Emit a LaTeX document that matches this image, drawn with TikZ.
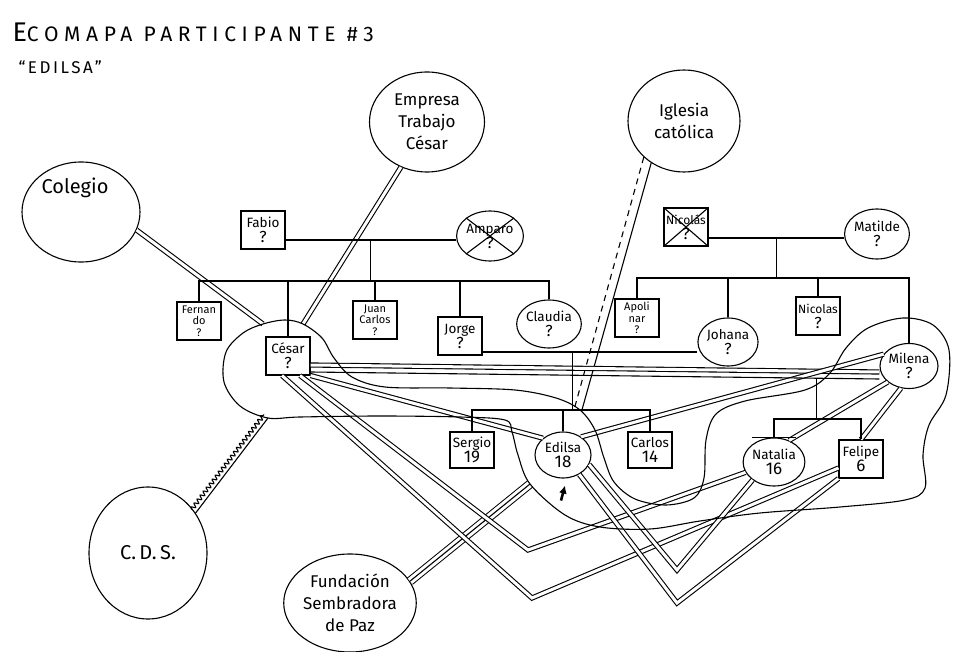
\documentclass[tikz,border=0pt]{standalone}
\usepackage{fontspec}
\setmainfont{Fira Sans}
\usetikzlibrary{shapes.geometric, arrows.meta, calc, decorations.pathmorphing}

\tikzset{
  sistema/.style={ellipse, draw, align=center, inner sep=0pt, font=\fontsize{17}{22}\selectfont},
  hombre/.style={rectangle, draw, minimum width=44pt, minimum height=38pt, inner sep=1pt, align=center, font=\fontsize{13.5}{15}\selectfont},
  mujer/.style={ellipse, draw, minimum width=57pt, minimum height=48pt, inner sep=0pt, align=center, font=\fontsize{13.5}{15}\selectfont},
  fuerte/.style={double, double distance=3pt},
  muyfuerte/.style={preaction={draw, line width=9pt}, preaction={draw, white, line width=7pt}},
  tenue/.style={dash pattern=on 6pt off 5pt},
  estres/.style={decorate, decoration={snake, segment length=5pt, amplitude=2pt}},
}
\newcommand{\preg}{{\fontsize{16}{16}\selectfont ?}}
\newcommand{\edad}[1]{{\fontsize{17}{17}\selectfont #1}}

\begin{document}
\begin{tikzpicture}[x=1pt, y=-1pt, line width=1.1pt]
  \useasboundingbox (0,0) rectangle (953,652);

  % Titulo
  \node[anchor=base west, inner sep=0pt, font=\fontsize{21}{21}\selectfont\addfontfeatures{LetterSpace=27}] (titulo) at (12,42)
    {{\fontsize{27}{27}\selectfont E}COMAPA PARTICIPANTE \#3};
  \node[anchor=base west, inner sep=0pt, font=\fontsize{17}{17}\selectfont\addfontfeatures{LetterSpace=15}] (subtitulo) at (18,74) {“EDILSA”};

  % Puntos del limite del hogar
  \coordinate (hogar-col) at (263,324);
  \coordinate (hogar-emp) at (303,324);
  \coordinate (hogar-cds) at (268,418);
  \coordinate (hogar-fun) at (530,484);
  % Quiebres de las lineas
  \coordinate (v1) at (528,550);
  \coordinate (v2) at (532,598);
  \coordinate (v3) at (677,570);
  \coordinate (v4) at (677,603);

  % Sistemas externos
  \node[sistema, minimum width=118pt, minimum height=100pt,
        label={[font=\fontsize{20}{20}\selectfont, xshift=-6pt, yshift=24pt]center:Colegio}] (colegio) at (81,212) {};
  \node[sistema, minimum width=115pt, minimum height=100pt] (empresa) at (427,122) {Empresa\\Trabajo\\César};
  \node[sistema, minimum width=112pt, minimum height=102pt] (iglesia) at (684,121) {Iglesia\\católica};
  \node[sistema, minimum width=118pt, minimum height=132pt, font=\fontsize{20}{20}\selectfont] (cds) at (148,553) {C.\,D.\,S.};
  \node[sistema, minimum width=114pt, minimum height=98pt] (fundacion) at (350,603) {Fundación\\Sembradora\\de Paz};

  % Familia de Cesar
  \node[hombre] (fabio) at (263,230) {Fabio\\\preg};
  \node[mujer, minimum width=58pt, minimum height=50pt] (amparo) at (490,236) {Amparo\\\preg};
  \node[hombre, font=\fontsize{11}{11.5}\selectfont] (fernando) at (199,321) {Fernan\\do\\?};
  \node[hombre] (cesar) at (288,356) {César\\\preg};
  \node[hombre, font=\fontsize{11}{11.5}\selectfont] (juancarlos) at (375,320) {Juan\\Carlos\\?};
  \node[hombre] (jorge) at (460,336) {Jorge\\\preg};
  \node[mujer, minimum width=58pt] (claudia) at (549,324) {Claudia\\\preg};

  % Familia de Milena
  \node[hombre, font=\fontsize{12}{15}\selectfont] (nicolas) at (686,227) {Nicolás\\\preg};
  \node[mujer, minimum width=60pt, minimum height=50pt] (matilde) at (877,234) {Matilde\\\preg};
  \node[hombre, font=\fontsize{11}{11.5}\selectfont] (apolinar) at (637,318) {Apoli\\nar\\?};
  \node[mujer] (johana) at (728,342) {Johana\\\preg};
  \node[hombre, font=\fontsize{12}{15}\selectfont] (nicolas2) at (818,316) {Nicolas\\\preg};
  \node[mujer, minimum width=58pt, minimum height=45pt] (milena) at (909,366) {Milena\\\preg};

  % Hijos
  \node[hombre, minimum height=36pt] (sergio) at (472,450) {Sergio\\\edad{19}};
  \node[mujer, minimum width=56pt, minimum height=46pt] (edilsa) at (563,455) {Edilsa\\\edad{18}};
  \node[hombre, minimum height=36pt] (carlos) at (650,450) {Carlos\\\edad{14}};
  \node[mujer, minimum width=58pt, minimum height=48pt] (natalia) at (774,462) {Natalia\\\edad{16}};
  \node[hombre] (felipe) at (861,459) {Felipe\\\edad{6}};

  % Relaciones con el entorno
  \draw[fuerte] (colegio.-18) -- (hogar-col);
  \draw[fuerte] (empresa.240) -- (hogar-emp);
  \draw[shorten >=24pt] (iglesia.232) -- (edilsa.60);
  \draw[tenue, shorten >=24pt] (iglesia.222) -- (edilsa.78);
  \draw (cds.40) -- (hogar-cds);
  \draw[estres, transform canvas={xshift=-4pt, yshift=3.5pt}] (cds.40) -- (hogar-cds);
  \draw[muyfuerte] (fundacion.20) -- (hogar-fun);

  % Relaciones dentro del hogar
  \draw[fuerte] ([yshift=-9pt]cesar.east) -- ([yshift=-6pt]milena.west);
  \draw[fuerte] (cesar.south east) -- (edilsa.140);
  \draw[fuerte] ([xshift=12pt]cesar.south) -- (v1) -- (natalia.200);
  \draw[fuerte] ([xshift=-6pt]cesar.south) -- (v2) -- ([yshift=-9pt]felipe.west);
  \draw[fuerte] (edilsa.340) -- (v3) -- (natalia.220);
  \draw[fuerte] (edilsa.310) -- (v4) -- (felipe.south west);
  \draw[fuerte] (edilsa.45) -- (milena.155);
  \draw[fuerte] (milena.217) -- (natalia.55);
  \draw[fuerte] (milena.250) -- (felipe.north);

  % Limite del hogar
  \draw plot[smooth cycle, tension=0.55] coordinates {
    (hogar-col) (285,320) (hogar-emp) (322,338) (334,358) (352,377) (385,387)
    (450,388) (515,390) (556,398) (580,410) (595,430) (604,458) (614,482)
    (635,499) (666,505) (694,498) (704,478) (706,440) (716,414) (745,401)
    (805,390) (830,373) (846,348) (868,328) (903,318) (933,325) (949,350)
    (946,395) (929,425) (923,455) (925,488) (905,500) (840,507) (760,513)
    (700,521) (650,529) (600,527) (565,515) (hogar-fun) (518,455) (512,432)
    (505,420) (460,417) (380,416) (300,417) (hogar-cds) (240,406) (224,382)
    (226,352) (243,333)};

  % Arbol familiar
  \draw ([yshift=-10pt]fabio.east) coordinate (u1) -- (u1 -| amparo.west);
  \coordinate (s1) at (0,281);
  \draw ($(u1)!0.5!(u1 -| amparo.west)$) coordinate (m1) -- (m1 |- s1);
  \draw (fernando.north) |- (claudia.north |- s1) -- (claudia.north);
  \foreach \h in {cesar, juancarlos, jorge} \draw (\h.north) -- (\h.north |- s1);

  \draw ([yshift=-11pt]nicolas.east) coordinate (u2) -- (u2 -| matilde.west);
  \coordinate (s2) at (0,278);
  \draw ($(u2)!0.5!(u2 -| matilde.west)$) coordinate (m2) -- (m2 |- s2);
  \draw (apolinar.north) |- (milena.north |- s2) -- (milena.north);
  \foreach \h in {johana, nicolas2} \draw (\h.north) -- (\h.north |- s2);

  \draw ([yshift=-16pt]jorge.east) coordinate (u3) -- (u3 -| johana.west);
  \coordinate (s3) at (0,410);
  \draw ($(u3)!0.42!(u3 -| johana.west)$) coordinate (m3) -- (m3 |- s3);
  \draw (sergio.north) |- (carlos.north |- s3) -- (carlos.north);
  \draw (edilsa.north) -- (edilsa.north |- s3);

  \draw ([yshift=-16pt]cesar.east) coordinate (u4) -- ([yshift=-13pt]milena.west) coordinate (u4b);
  \coordinate (s4) at (0,419);
  \draw ($(u4)!0.89!(u4b)$) coordinate (m4) -- (m4 |- s4);
  \draw (natalia.north) |- (felipe.north |- s4) -- (felipe.north);
  \draw ([xshift=-22pt]natalia.north) -- ([xshift=22pt]natalia.north);

  % Fallecidos
  \draw (amparo.north west) -- (amparo.south east) (amparo.south west) -- (amparo.north east);
  \draw (nicolas.north west) -- (nicolas.south east) (nicolas.south west) -- (nicolas.north east);

  % Participante
  \draw[-{Latex[length=8pt,width=8pt]}, line width=2.6pt] ([xshift=-2pt,yshift=-22pt]edilsa.south) -- ([xshift=2pt,yshift=-7pt]edilsa.south);
\end{tikzpicture}
\end{document}
